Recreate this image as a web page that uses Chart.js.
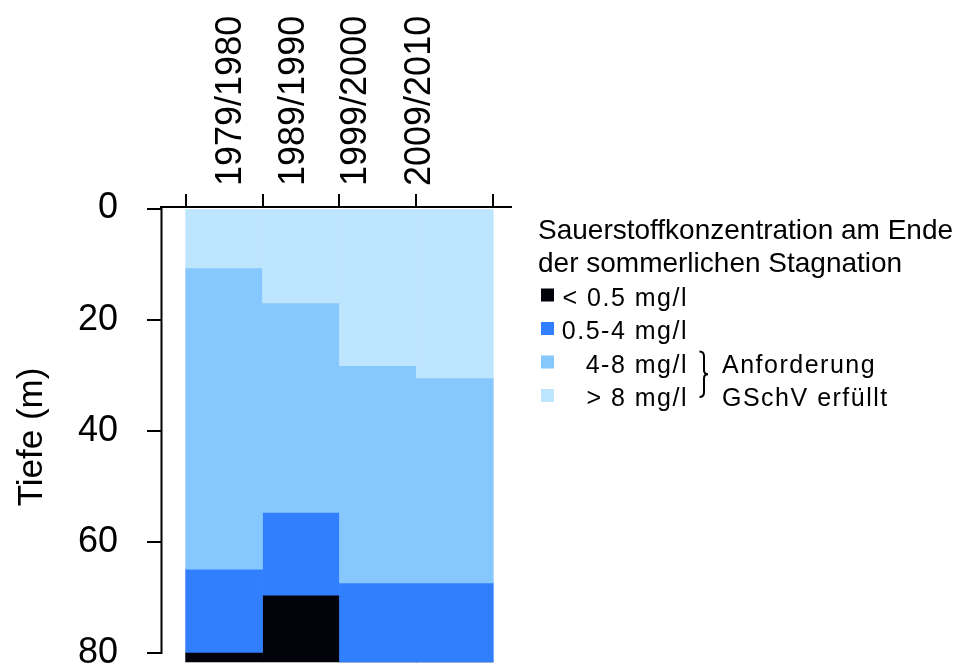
<!DOCTYPE html>
<html>
<head>
<meta charset="utf-8">
<script src="https://cdn.jsdelivr.net/npm/chart.js@4.4.1/dist/chart.umd.min.js"></script>
<style>
  html, body { margin: 0; padding: 0; background: #fff; }
  canvas { display: block; }
</style>
</head>
<body>
<canvas id="c" width="959" height="667"></canvas>
<script>
// ---- data (depth in m, thickness of each oxygen layer, top to bottom) ----
const periods = ['1979/1980', '1989/1990', '1999/2000', '2009/2010'];
const layerOver8   = [10.7, 17.0, 28.3, 30.5];   // > 8 mg/l
const layer4to8    = [54.2, 37.7, 39.1, 36.9];   // 4-8 mg/l
const layer05to4   = [15.0, 14.9, 14.2, 14.2];   // 0.5-4 mg/l
const layerUnder05 = [1.7, 12.0, 0, 0];          // < 0.5 mg/l
const depthTicks = [0, 20, 40, 60, 80];
const legendTitle = ['Sauerstoffkonzentration am Ende', 'der sommerlichen Stagnation'];
const braceText = ['Anforderung', 'GSchV erfüllt'];

const FONT = '"Liberation Sans", Arial, Helvetica, sans-serif';
Chart.defaults.color = '#000';
Chart.defaults.font.family = FONT;

const toPoints = arr => arr.map((v, i) => ({ x: i + 0.5, y: v }));

const datasets = [
  { label: '> 8 mg/l',   data: toPoints(layerOver8),   backgroundColor: '#BEE5FE' },
  { label: '4-8 mg/l',   data: toPoints(layer4to8),    backgroundColor: '#86C7FE' },
  { label: '0.5-4 mg/l', data: toPoints(layer05to4),   backgroundColor: '#317FFE' },
  { label: '< 0.5 mg/l', data: toPoints(layerUnder05), backgroundColor: '#02020A' }
].map(d => Object.assign(d, { xAxisID: 'x', yAxisID: 'y', borderWidth: 0, barPercentage: 1, categoryPercentage: 1 }));

const X_MIN = -0.32, X_MAX = 4.23;
const boundaries = [0, 1, 2, 3, 4];
const labelCenters = [0.59, 1.41, 2.22, 3.05];
const LABEL_SHIFT = 0.56; // compensates Chart.js offset of rotated labels on a top axis

function zeroPad(s) { s.paddingLeft = 0; s.paddingRight = 0; s.paddingTop = 0; s.paddingBottom = 0; }

const axisLinePlugin = {
  id: 'axisLine',
  afterDraw(chart) {
    const ctx = chart.ctx, y = chart.scales.y, x0 = chart.chartArea.left;
    ctx.save();
    ctx.strokeStyle = '#000';
    ctx.lineWidth = 2;
    ctx.beginPath();
    ctx.moveTo(x0 + 0.5, y.getPixelForValue(depthTicks[0]) - 1);
    ctx.lineTo(x0 + 0.5, y.getPixelForValue(depthTicks[depthTicks.length - 1]) + 1);
    ctx.stroke();
    ctx.restore();
  }
};

const legendPlugin = {
  id: 'customLegend',
  afterDraw(chart) {
    const ctx = chart.ctx;
    ctx.save();
    ctx.fillStyle = '#000';
    ctx.textBaseline = 'alphabetic';
    ctx.textAlign = 'left';
    ctx.font = '28px ' + FONT;
    const x0 = 538, base0 = 238.5, step = 33.5;
    legendTitle.forEach((t, i) => ctx.fillText(t, x0, base0 + i * step));
    const items = chart.data.datasets.slice().reverse();
    ctx.font = '25px ' + FONT;
    if ('letterSpacing' in ctx) ctx.letterSpacing = '1.5px';
    items.forEach((d, i) => {
      const base = base0 + (i + 2) * step;
      ctx.fillStyle = d.backgroundColor;
      ctx.fillRect(541, base - 17, 13, 13);
      ctx.fillStyle = '#000';
      ctx.textAlign = 'right';
      ctx.fillText(d.label, 688, base);
    });
    // brace
    const b1 = base0 + 4 * step, b2 = base0 + 5 * step;
    const top = b1 - 21, bot = b2 - 9, mid = (top + bot) / 2;
    ctx.strokeStyle = '#000';
    ctx.lineWidth = 2;
    ctx.beginPath();
    ctx.moveTo(699.5, top);
    ctx.quadraticCurveTo(704, top, 704, top + 5);
    ctx.lineTo(704, mid - 4);
    ctx.quadraticCurveTo(704, mid, 708, mid);
    ctx.quadraticCurveTo(704, mid, 704, mid + 4);
    ctx.lineTo(704, bot - 5);
    ctx.quadraticCurveTo(704, bot, 699.5, bot);
    ctx.stroke();
    ctx.textAlign = 'left';
    ctx.fillText(braceText[0], 722, b1);
    ctx.fillText(braceText[1], 722, b2);
    ctx.restore();
  }
};

const isBoundary = v => boundaries.includes(v);
const topTicks = boundaries.map(v => ({ value: v }))
  .concat(labelCenters.map(v => ({ value: +(v + LABEL_SHIFT).toFixed(4) })))
  .sort((a, b) => a.value - b.value);
const labelValues = labelCenters.map(v => +(v + LABEL_SHIFT).toFixed(4));

new Chart(document.getElementById('c'), {
  type: 'bar',
  data: { datasets },
  options: {
    responsive: false,
    animation: false,
    layout: { padding: { left: 0, top: 0, right: 448, bottom: 0 } },
    plugins: { legend: { display: false }, title: { display: false }, tooltip: { enabled: false } },
    scales: {
      x: {
        type: 'linear',
        position: 'bottom',
        display: false,
        stacked: true,
        offset: false,
        min: X_MIN, max: X_MAX,
        afterBuildTicks: s => { s.ticks = boundaries.map(v => ({ value: v })); },
        grid: { offset: false }
      },
      xTop: {
        type: 'linear',
        axis: 'x',
        position: 'top',
        offset: false,
        min: X_MIN, max: X_MAX,
        afterBuildTicks: s => { s.ticks = topTicks.map(t => ({ value: t.value })); },
        afterFit: s => { s.height = 207; zeroPad(s); },
        ticks: {
          autoSkip: false, maxRotation: 90, minRotation: 90, padding: 8,
          font: { size: 36, family: FONT }, color: '#000',
          callback: (v) => {
            const k = labelValues.indexOf(+(+v).toFixed(4));
            return k >= 0 ? periods[k] : '';
          }
        },
        grid: {
          offset: false, drawOnChartArea: false, drawTicks: true, tickLength: 13, lineWidth: 2,
          color: ctx => (ctx.tick && isBoundary(ctx.tick.value)) ? '#000' : 'rgba(0,0,0,0)'
        },
        border: { display: true, color: '#000', width: 2 }
      },
      y: {
        type: 'linear',
        position: 'left',
        reverse: true,
        stacked: true,
        min: -0.27, max: 82.53,
        afterBuildTicks: s => { s.ticks = depthTicks.map(v => ({ value: v })); },
        afterFit: s => { s.width = 161; zeroPad(s); },
        ticks: { padding: 29, font: { size: 36, family: FONT }, color: '#000' },
        grid: { drawOnChartArea: false, drawTicks: true, tickLength: 14, color: '#000', lineWidth: 2 },
        border: { display: false },
        title: { display: true, text: 'Tiefe (m)', font: { size: 35, family: FONT }, color: '#000', padding: { top: 11, bottom: 0 } }
      }
    }
  },
  plugins: [axisLinePlugin, legendPlugin]
});
</script>
</body>
</html>
